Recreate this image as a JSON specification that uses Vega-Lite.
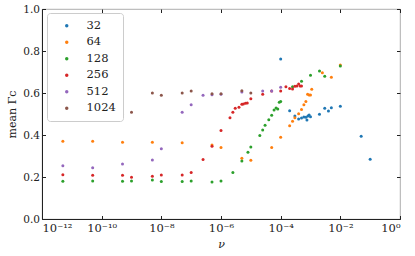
{
  "$schema": "https://vega.github.io/schema/vega-lite/v6.json",
  "width": 358,
  "height": 210,
  "autosize": "none",
  "padding": {"left": 42, "top": 9, "right": 15, "bottom": 37},
  "background": "white",
  "config": {
    "font": "DejaVu Serif",
    "view": {"stroke": "#999", "strokeWidth": 0.8},
    "axis": {"grid": false, "labelFont": "DejaVu Serif", "titleFont": "DejaVu Serif", "labelFontSize": 10.5, "titleFontSize": 11, "labelColor": "#222", "titleColor": "#222", "tickColor": "#222", "domainColor": "#222", "titleFontWeight": "normal"}
  },
  "data": {"values": [
    {"n":"32","nu":1e-4,"g":0.762},{"n":"32","nu":2e-4,"g":0.516},{"n":"32","nu":3e-4,"g":0.49},{"n":"32","nu":4e-4,"g":0.476},{"n":"32","nu":5e-4,"g":0.481},{"n":"32","nu":6e-4,"g":0.486},{"n":"32","nu":7e-4,"g":0.484},{"n":"32","nu":7.6e-4,"g":0.471},{"n":"32","nu":8.2e-4,"g":0.49},{"n":"32","nu":9e-4,"g":0.495},{"n":"32","nu":1e-3,"g":0.487},{"n":"32","nu":2e-3,"g":0.499},{"n":"32","nu":3e-3,"g":0.527},{"n":"32","nu":4e-3,"g":0.514},{"n":"32","nu":5e-3,"g":0.53},{"n":"32","nu":1e-2,"g":0.537},{"n":"32","nu":5e-2,"g":0.394},{"n":"32","nu":1e-1,"g":0.284},
    {"n":"64","nu":5e-12,"g":0.37},{"n":"64","nu":5e-11,"g":0.37},{"n":"64","nu":5e-10,"g":0.365},{"n":"64","nu":5e-9,"g":0.365},{"n":"64","nu":5e-8,"g":0.363},{"n":"64","nu":5e-7,"g":0.352},{"n":"64","nu":1e-6,"g":0.34},{"n":"64","nu":5e-6,"g":0.289},{"n":"64","nu":1e-5,"g":0.28},{"n":"64","nu":5e-5,"g":0.34},{"n":"64","nu":1e-4,"g":0.389},{"n":"64","nu":2e-4,"g":0.444},{"n":"64","nu":2.5e-4,"g":0.465},{"n":"64","nu":3e-4,"g":0.482},{"n":"64","nu":4e-4,"g":0.501},{"n":"64","nu":5e-4,"g":0.522},{"n":"64","nu":6e-4,"g":0.544},{"n":"64","nu":7e-4,"g":0.559},{"n":"64","nu":8e-4,"g":0.594},{"n":"64","nu":9e-4,"g":0.59},{"n":"64","nu":1e-3,"g":0.59},{"n":"64","nu":1.1e-3,"g":0.618},{"n":"64","nu":2.5e-3,"g":0.697},{"n":"64","nu":5e-3,"g":0.675},{"n":"64","nu":1e-2,"g":0.733},
    {"n":"128","nu":5e-12,"g":0.18},{"n":"128","nu":5e-11,"g":0.181},{"n":"128","nu":5e-10,"g":0.18},{"n":"128","nu":1e-9,"g":0.181},{"n":"128","nu":5e-9,"g":0.186},{"n":"128","nu":1e-8,"g":0.178},{"n":"128","nu":5e-8,"g":0.178},{"n":"128","nu":1e-7,"g":0.181},{"n":"128","nu":5e-7,"g":0.176},{"n":"128","nu":1e-6,"g":0.181},{"n":"128","nu":2.5e-6,"g":0.222},{"n":"128","nu":5e-6,"g":0.276},{"n":"128","nu":8e-6,"g":0.318},{"n":"128","nu":1e-5,"g":0.343},{"n":"128","nu":2e-5,"g":0.398},{"n":"128","nu":2.5e-5,"g":0.424},{"n":"128","nu":3e-5,"g":0.446},{"n":"128","nu":4e-5,"g":0.473},{"n":"128","nu":5e-5,"g":0.494},{"n":"128","nu":6e-5,"g":0.519},{"n":"128","nu":7e-5,"g":0.529},{"n":"128","nu":8e-5,"g":0.524},{"n":"128","nu":9e-5,"g":0.556},{"n":"128","nu":1e-4,"g":0.559},{"n":"128","nu":2.5e-4,"g":0.63},{"n":"128","nu":5e-4,"g":0.656},{"n":"128","nu":1e-3,"g":0.684},{"n":"128","nu":2e-3,"g":0.705},{"n":"128","nu":3e-3,"g":0.68},{"n":"128","nu":1e-2,"g":0.728},
    {"n":"256","nu":5e-12,"g":0.211},{"n":"256","nu":5e-11,"g":0.208},{"n":"256","nu":5e-10,"g":0.208},{"n":"256","nu":1e-9,"g":0.199},{"n":"256","nu":5e-9,"g":0.203},{"n":"256","nu":1e-8,"g":0.21},{"n":"256","nu":5e-8,"g":0.21},{"n":"256","nu":1e-7,"g":0.222},{"n":"256","nu":2.5e-7,"g":0.283},{"n":"256","nu":5e-7,"g":0.346},{"n":"256","nu":1e-6,"g":0.422},{"n":"256","nu":2e-6,"g":0.482},{"n":"256","nu":2.5e-6,"g":0.508},{"n":"256","nu":3e-6,"g":0.527},{"n":"256","nu":4e-6,"g":0.532},{"n":"256","nu":5e-6,"g":0.546},{"n":"256","nu":5.6e-6,"g":0.548},{"n":"256","nu":6.6e-6,"g":0.551},{"n":"256","nu":7.6e-6,"g":0.552},{"n":"256","nu":1e-5,"g":0.573},{"n":"256","nu":2.5e-5,"g":0.594},{"n":"256","nu":5e-5,"g":0.61},{"n":"256","nu":1e-4,"g":0.61},{"n":"256","nu":1.5e-4,"g":0.63},{"n":"256","nu":2e-4,"g":0.622},{"n":"256","nu":2.5e-4,"g":0.619},{"n":"256","nu":3e-4,"g":0.632},{"n":"256","nu":3.5e-4,"g":0.633},{"n":"256","nu":4e-4,"g":0.643},{"n":"256","nu":4.5e-4,"g":0.633},{"n":"256","nu":5e-4,"g":0.633},
    {"n":"512","nu":5e-12,"g":0.254},{"n":"512","nu":5e-11,"g":0.244},{"n":"512","nu":5e-10,"g":0.262},{"n":"512","nu":5e-9,"g":0.281},{"n":"512","nu":1e-8,"g":0.335},{"n":"512","nu":5e-8,"g":0.508},{"n":"512","nu":1e-7,"g":0.544},{"n":"512","nu":2.5e-7,"g":0.589},{"n":"512","nu":5e-7,"g":0.592},{"n":"512","nu":1e-6,"g":0.594},{"n":"512","nu":5e-6,"g":0.605},{"n":"512","nu":2.5e-5,"g":0.61},{"n":"512","nu":5e-5,"g":0.61},{"n":"512","nu":1e-4,"g":0.627},
    {"n":"1024","nu":1e-10,"g":0.47},{"n":"1024","nu":5e-10,"g":0.497},{"n":"1024","nu":1e-9,"g":0.508},{"n":"1024","nu":5e-9,"g":0.6},{"n":"1024","nu":1e-8,"g":0.589},{"n":"1024","nu":5e-8,"g":0.6},{"n":"1024","nu":1e-7,"g":0.61},{"n":"1024","nu":5e-7,"g":0.597},{"n":"1024","nu":1e-6,"g":0.597},{"n":"1024","nu":5e-6,"g":0.611},{"n":"1024","nu":1e-5,"g":0.6}
  ]},
  "layer": [
    {
      "mark": {"type": "point", "filled": true, "size": 9, "opacity": 1},
      "encoding": {
        "x": {"field": "nu", "type": "quantitative", "scale": {"type": "log", "domain": [1e-12, 1], "nice": false},
              "axis": {"title": "ν", "titleFontStyle": "italic", "values": [1e-12,1e-10,1e-8,1e-6,1e-4,1e-2,1],
                       "labelExpr": "datum.value == 1 ? '10⁰' : '10⁻' + replace(replace(replace(replace(replace(replace(replace(format(-log(datum.value)/log(10), '.0f'),'0','⁰'),'1','¹'),'2','²'),'4','⁴'),'6','⁶'),'8','⁸'),'9','⁹')",
                       "labelFontSize": 11.5, "tickSize": -3.5, "labelPadding": 7, "domainWidth": 1, "titlePadding": 4}},
        "y": {"field": "g", "type": "quantitative", "scale": {"domain": [0, 1], "nice": false},
              "axis": {"title": "mean Γc", "values": [0,0.2,0.4,0.6,0.8,1.0], "format": ".1f", "tickSize": -3.5, "labelPadding": 6, "domainWidth": 1, "titlePadding": 5}},
        "color": {"field": "n", "type": "nominal",
                  "scale": {"domain": ["32","64","128","256","512","1024"], "range": ["#1f77b4","#ff7f0e","#2ca02c","#d62728","#9467bd","#8c564b"]},
                  "legend": {"title": null, "orient": "none", "legendX": 5, "legendY": 4, "padding": 7, "strokeColor": "#ccc", "fillColor": "white", "cornerRadius": 3, "labelFont": "DejaVu Serif", "labelFontSize": 11.5, "labelColor": "#222", "symbolSize": 12, "symbolType": "circle", "rowPadding": 3.5, "labelOffset": 14, "symbolOffset": 7}}
      }
    },
    {
      "mark": {"type": "point", "opacity": 0},
      "encoding": {
        "x": {"field": "nu", "type": "quantitative", "scale": {"type": "log", "domain": [1e-12, 1], "nice": false},
              "axis": {"orient": "top", "title": null, "labels": false, "domain": false, "values": [1e-12,1e-10,1e-8,1e-6,1e-4,1e-2,1], "tickSize": -3.5}},
        "y": {"field": "g", "type": "quantitative", "scale": {"domain": [0, 1], "nice": false},
              "axis": {"orient": "right", "title": null, "labels": false, "domain": false, "values": [0,0.2,0.4,0.6,0.8,1.0], "tickSize": -3.5}}
      }
    }
  ],
  "resolve": {"axis": {"x": "independent", "y": "independent"}}
}
